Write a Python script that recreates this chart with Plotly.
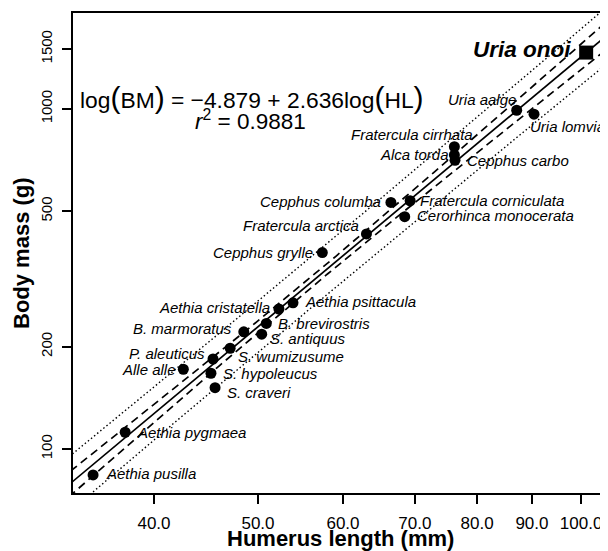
import numpy as np
import plotly.graph_objects as go

# ---------------- data ----------------
species = ["Aethia pusilla", "Aethia pygmaea", "Alle alle", "P. aleuticus", "S. hypoleucus",
           "S. craveri", "S. wumizusume", "B. marmoratus", "S. antiquus", "B. brevirostris",
           "Aethia cristatella", "Aethia psittacula", "Cepphus grylle", "Fratercula arctica",
           "Cepphus columba", "Fratercula corniculata", "Cerorhinca monocerata", "Alca torda",
           "Fratercula cirrhata", "Cepphus carbo", "Uria aalge", "Uria lomvia"]
humerus_mm = [35.1, 37.6, 42.6, 45.4, 45.2, 45.6, 47.1, 48.5, 50.4, 50.9,
              52.3, 53.9, 57.4, 63.1, 66.5, 69.3, 68.5, 76.2, 76.2, 76.3, 87.1, 90.4]
body_mass_g = [83.9, 112.0, 171.6, 183.9, 167.0, 151.4, 197.8, 221.0, 217.5, 234.0,
               258.0, 269.0, 378.0, 429.0, 531.0, 537.0, 482.0, 732.0, 774.0, 706.0, 991.0, 964.6]

fossil_name = "Uria onoi"
fossil_humerus_mm = 101.1

intercept = -4.879
slope = 2.636
r_squared = 0.9881
t_crit = 2.086  # t(0.975, df = 20)

x_ticks = [40, 50, 60, 70, 80, 90, 100]
x_tick_labels = ["40.0", "50.0", "60.0", "70.0", "80.0", "90.0", "100.0"]
y_ticks = [100, 200, 500, 1000, 1500]
y_tick_labels = ["100", "200", "500", "1000", "1500"]

# ---------------- label placement (style) ----------------
# (anchor side, x shift px, y shift px (down positive))
label_pos = {
    "Aethia pusilla": ("left", 11, -1),
    "Aethia pygmaea": ("left", 10, 0),
    "Alle alle": ("right", -5, 0),
    "P. aleuticus": ("right", -6, -6),
    "S. hypoleucus": ("left", 10, 0),
    "S. craveri": ("left", 10, 5),
    "S. wumizusume": ("left", 6, 8),
    "B. marmoratus": ("right", -10, -3),
    "S. antiquus": ("left", 6, 4),
    "B. brevirostris": ("left", 10, 0),
    "Aethia cristatella": ("right", -7, -2),
    "Aethia psittacula": ("left", 10, -1),
    "Cepphus grylle": ("right", -7, 0),
    "Fratercula arctica": ("right", -5, -8),
    "Cepphus columba": ("right", -8, -1),
    "Fratercula corniculata": ("left", 8, 0),
    "Cerorhinca monocerata": ("left", 10, -1),
    "Alca torda": ("right", -3, 0),
    "Fratercula cirrhata": ("right", 21, -12),
    "Cepphus carbo": ("left", 10, 0),
    "Uria aalge": ("right", 1, -11),
    "Uria lomvia": ("left", -6, 12),
}

# ---------------- model ----------------
lx = np.log(np.array(humerus_mm))
ly = np.log(np.array(body_mass_g))
n = len(lx)
resid = ly - (intercept + slope * lx)
s = np.sqrt(np.sum(resid ** 2) / (n - 2))
xbar = lx.mean()
sxx = np.sum((lx - xbar) ** 2)

grid = np.linspace(np.log(30), np.log(110), 300)
fit = intercept + slope * grid
se_conf = s * np.sqrt(1 / n + (grid - xbar) ** 2 / sxx)
se_pred = s * np.sqrt(1 + 1 / n + (grid - xbar) ** 2 / sxx)
gx = np.exp(grid)

fossil_mass = float(np.exp(intercept + slope * np.log(fossil_humerus_mm)))

FONT = "Liberation Sans, Arial, Helvetica, sans-serif"

fig = go.Figure()
fig.add_trace(go.Scatter(x=gx, y=np.exp(fit), mode="lines",
                         line=dict(color="black", width=1.7), hoverinfo="skip"))
for sign in (1, -1):
    fig.add_trace(go.Scatter(x=gx, y=np.exp(fit + sign * t_crit * se_conf), mode="lines",
                             line=dict(color="black", width=1.7, dash="8px,5px"), hoverinfo="skip"))
    fig.add_trace(go.Scatter(x=gx, y=np.exp(fit + sign * t_crit * se_pred), mode="lines",
                             line=dict(color="black", width=1.4, dash="1.5px,2.5px"), hoverinfo="skip"))

fig.add_trace(go.Scatter(x=humerus_mm, y=body_mass_g, mode="markers",
                         marker=dict(color="black", size=11, symbol="circle"),
                         text=species, hoverinfo="text"))
fig.add_trace(go.Scatter(x=[fossil_humerus_mm], y=[fossil_mass], mode="markers",
                         marker=dict(color="black", size=14, symbol="square"),
                         text=[fossil_name], hoverinfo="text"))

annotations = []
for name, hx, bm in zip(species, humerus_mm, body_mass_g):
    side, dx, dy = label_pos[name]
    annotations.append(dict(x=np.log10(hx), y=np.log10(bm), xref="x", yref="y",
                            text="<i>%s</i>" % name, showarrow=False,
                            xanchor=side, yanchor="middle", xshift=dx, yshift=-dy,
                            font=dict(family=FONT, size=15, color="black")))
annotations.append(dict(x=np.log10(fossil_humerus_mm), y=np.log10(fossil_mass), xref="x", yref="y",
                        text="<b><i>%s</i></b>" % fossil_name, showarrow=False,
                        xanchor="right", yanchor="middle", xshift=-13, yshift=3,
                        font=dict(family=FONT, size=22.5, color="black")))

P = "<span style='font-size:30px'>%s</span>"
eq1 = ("log" + P % "(" + "BM" + P % ")" + " = \u2212%.3f + %.3flog" % (-intercept, slope)
       + P % "(" + "HL" + P % ")")
annotations.append(dict(x=0.3355, y=0.825, xref="paper", yref="paper", text=eq1,
                        showarrow=False, xanchor="center", yanchor="middle",
                        font=dict(family=FONT, size=22.8, color="black")))
annotations.append(dict(x=0.3327, y=0.777, xref="paper", yref="paper",
                        text="<i>r</i><sup>2</sup> = %.4f" % r_squared,
                        showarrow=False, xanchor="center", yanchor="middle",
                        font=dict(family=FONT, size=22.5, color="black")))
annotations.append(dict(x=0.5, y=0, xref="paper", yref="paper", text="<b>Humerus length (mm)</b>",
                        showarrow=False, xanchor="center", yanchor="middle", yshift=-45,
                        font=dict(family=FONT, size=22, color="black")))
annotations.append(dict(x=0, y=0.5, xref="paper", yref="paper", text="<b>Body mass (g)</b>",
                        showarrow=False, xanchor="center", yanchor="middle", xshift=-52,
                        textangle=-90, font=dict(family=FONT, size=22, color="black")))

# the page body has an 8px default margin, so the figure is 8px smaller on each axis
fig.update_layout(
    width=600, height=543,
    margin=dict(l=65, r=0, t=5, b=58),
    paper_bgcolor="white", plot_bgcolor="white",
    showlegend=False,
    annotations=annotations,
    xaxis=dict(type="log", range=[1.5266, 2.0251], showgrid=False, zeroline=False,
               showline=True, linecolor="black", linewidth=2, mirror=True,
               ticks="outside", ticklen=9, tickwidth=2, tickcolor="black",
               tickvals=x_ticks, ticktext=x_tick_labels, ticklabelstandoff=5,
               tickfont=dict(family=FONT, size=17, color="black")),
    yaxis=dict(type="log", range=[1.8706, 3.282], showgrid=False, zeroline=False,
               showline=True, linecolor="black", linewidth=2, mirror=False,
               ticks="outside", ticklen=9, tickwidth=2, tickcolor="black",
               tickvals=y_ticks, ticktext=y_tick_labels, tickangle=-90, ticklabelstandoff=4,
               tickfont=dict(family=FONT, size=15, color="black")),
)

fig.write_html("out.html")
